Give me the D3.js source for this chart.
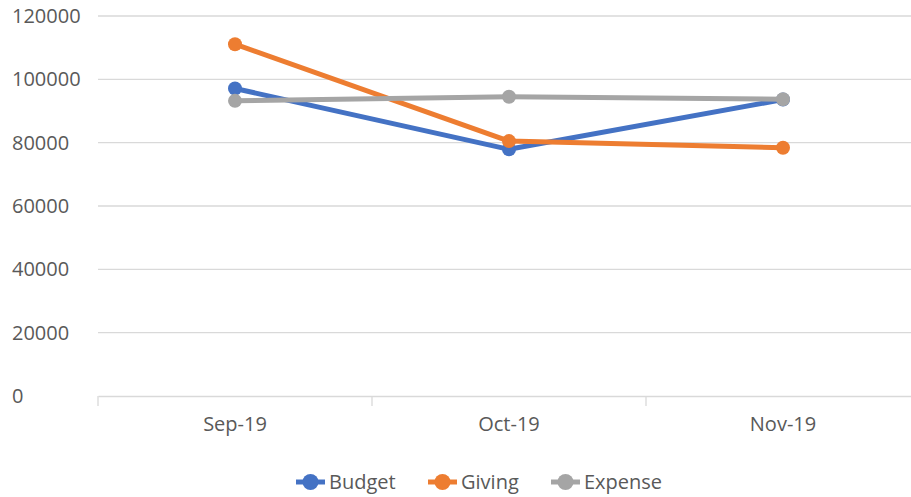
<!DOCTYPE html>
<html>
<head>
<meta charset="utf-8">
<script src="https://cdn.jsdelivr.net/npm/d3@7"></script>
<style>
  html, body { margin: 0; padding: 0; background: #fff; }
  svg text { font-family: "Open Sans", "Noto Sans", sans-serif; fill: #595959; }
</style>
</head>
<body>
<div class="chart"></div>
<script>
const categories = ["Sep-19", "Oct-19", "Nov-19"];
const budget = [97100, 77900, 93600];
const giving = [111100, 80500, 78400];
const expense = [93200, 94500, 93700];
const yTicks = [0, 20000, 40000, 60000, 80000, 100000, 120000];

const series = [
  { name: "Budget", values: budget, color: "#4472C4" },
  { name: "Giving", values: giving, color: "#ED7D31" },
  { name: "Expense", values: expense, color: "#A5A5A5" }
];

const width = 911;
const height = 497;
const margin = { top: 16, right: -9, bottom: 101, left: 98 };

const svg = d3
  .select(".chart")
  .append("svg")
  .attr("width", width)
  .attr("height", height);

const xScale = d3
  .scaleBand()
  .domain(categories)
  .range([margin.left, width - margin.right]);

const yScale = d3
  .scaleLinear()
  .domain([0, 120000])
  .range([height - margin.bottom, margin.top]);

// gridlines
svg
  .append("g")
  .selectAll("line")
  .data(yTicks.slice(1))
  .enter()
  .append("line")
  .attr("x1", margin.left)
  .attr("x2", width - margin.right)
  .attr("y1", (d) => yScale(d))
  .attr("y2", (d) => yScale(d))
  .attr("stroke", "#d9d9d9")
  .attr("stroke-width", 1.3);

// y axis labels (left aligned, like the reference)
const yAxis = d3
  .axisLeft(yScale)
  .tickValues(yTicks)
  .tickFormat(d3.format("d"))
  .tickSize(0);
const gy = svg
  .append("g")
  .attr("transform", `translate(${margin.left},0)`)
  .call(yAxis);
gy.select(".domain").remove();
gy.selectAll("text")
  .attr("text-anchor", "start")
  .attr("x", 12 - margin.left)
  .style("font-size", "20px")
  .attr("fill", "#595959");

// x axis
const gx = svg
  .append("g")
  .attr("transform", `translate(0,${yScale(0)})`)
  .call(d3.axisBottom(xScale).tickSize(0).tickPadding(21));
gx.select(".domain").attr("stroke", "#d9d9d9").attr("stroke-width", 1.3);
gx.selectAll("text").style("font-size", "20px").attr("fill", "#595959");

// category separator ticks
const bounds = categories.map((c) => xScale(c)).concat([xScale(categories[2]) + xScale.bandwidth()]);
gx.selectAll(".sep")
  .data(bounds)
  .enter()
  .append("line")
  .attr("class", "sep")
  .attr("x1", (d) => d)
  .attr("x2", (d) => d)
  .attr("y1", 0)
  .attr("y2", 10)
  .attr("stroke", "#d9d9d9")
  .attr("stroke-width", 1.3);

const cx = (i) => xScale(categories[i]) + xScale.bandwidth() / 2;
const line = d3
  .line()
  .x((d, i) => cx(i))
  .y((d) => yScale(d));

series.forEach((s) => {
  const g = svg.append("g");
  g.append("path")
    .datum(s.values)
    .attr("d", line)
    .attr("fill", "none")
    .attr("stroke", s.color)
    .attr("stroke-width", 5)
    .attr("stroke-linejoin", "round");
  g.selectAll("circle")
    .data(s.values)
    .enter()
    .append("circle")
    .attr("cx", (d, i) => cx(i))
    .attr("cy", (d) => yScale(d))
    .attr("r", 7)
    .attr("fill", s.color);
});

// legend
const legendX = [296, 428, 551];
const legend = svg.append("g").attr("transform", `translate(0, 482)`);
series.forEach((s, i) => {
  const item = legend.append("g").attr("transform", `translate(${legendX[i]},0)`);
  item.append("line")
    .attr("x1", 0)
    .attr("x2", 29)
    .attr("stroke", s.color)
    .attr("stroke-width", 5);
  item.append("circle").attr("cx", 14.5).attr("r", 8).attr("fill", s.color);
  item.append("text")
    .attr("x", 33)
    .attr("dy", "0.35em")
    .style("font-size", "20px")
    .text(s.name);
});
</script>
</body>
</html>
